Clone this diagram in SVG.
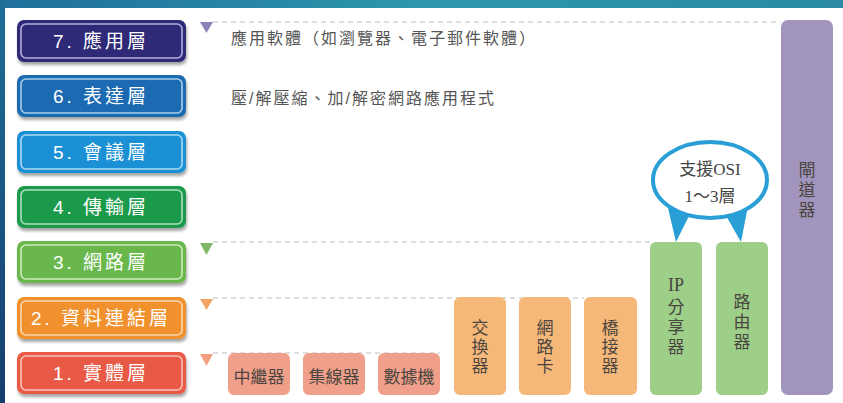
<svg xmlns="http://www.w3.org/2000/svg" width="843" height="403" viewBox="0 0 843 403">
<defs>
<linearGradient id="topband" x1="0" y1="0" x2="1" y2="0">
<stop offset="0" stop-color="#1f6f9a"/><stop offset="0.5" stop-color="#2d97ad"/><stop offset="1" stop-color="#2a8aa6"/>
</linearGradient>
<linearGradient id="leftband" x1="0" y1="0" x2="0" y2="1">
<stop offset="0" stop-color="#1e6e98"/><stop offset="1" stop-color="#163e6e"/>
</linearGradient>
<filter id="sh" x="-10%" y="-20%" width="120%" height="150%">
<feDropShadow dx="1" dy="3" stdDeviation="1.5" flood-color="#000" flood-opacity="0.35"/>
</filter>
</defs>
<style>
.layer text{font-family:"Liberation Sans","Noto Sans CJK TC",sans-serif;font-size:19px;fill:#fff;text-anchor:middle;letter-spacing:3px}
.inner{fill:none;stroke-width:1.6;stroke-opacity:0.85}
.desc{font-family:"Liberation Sans","Noto Sans CJK TC",sans-serif;font-size:16px;fill:#555;letter-spacing:2px}
.dash{stroke:#bdbdbd;stroke-width:1;stroke-dasharray:5 4;fill:none}
.dev text{font-family:"Noto Sans CJK TC",sans-serif;font-size:17px;fill:#4a4540;text-anchor:middle}
.dev text.v{writing-mode:vertical-rl;text-anchor:start;letter-spacing:2px}
.dev text.v20{letter-spacing:3px}
.bub{font-family:"Liberation Serif","Noto Sans CJK TC",serif;font-size:17px;fill:#444;text-anchor:middle}
</style>
<rect x="0" y="0" width="843" height="403" fill="#fff"/>
<rect x="0" y="0" width="843" height="8" fill="url(#topband)"/>
<rect x="0" y="0" width="5" height="403" fill="url(#leftband)"/>

<g id="connectors">
<line class="dash" x1="213" y1="22" x2="781" y2="22"/>
<line class="dash" x1="213" y1="242" x2="650" y2="242"/>
<line class="dash" x1="213" y1="298" x2="584" y2="298"/>
<line class="dash" x1="213" y1="353" x2="440" y2="353"/>
<polygon points="200,22 213,22 206.5,33" fill="#8a84b8"/>
<polygon points="200,243 213,243 206.5,255" fill="#7fb866"/>
<polygon points="200,299 213,299 206.5,310" fill="#f2a464"/>
<polygon points="200,354 213,354 206.5,366" fill="#f2a080"/>
</g>

<g id="layer7" class="layer"><rect x="17" y="20" width="169" height="42" rx="7" fill="#2e2a78" filter="url(#sh)"/><rect x="21" y="24" width="161" height="34" rx="5" class="inner" stroke="#c9c6ee"/><text x="101" y="48">7. 應用層</text></g>
<g id="layer6" class="layer"><rect x="17" y="75" width="169" height="42" rx="7" fill="#1c6ab2" filter="url(#sh)"/><rect x="21" y="79" width="161" height="34" rx="5" class="inner" stroke="#bfe0f7"/><text x="101" y="103">6. 表達層</text></g>
<g id="layer5" class="layer"><rect x="17" y="131" width="169" height="42" rx="7" fill="#1f90d4" filter="url(#sh)"/><rect x="21" y="135" width="161" height="34" rx="5" class="inner" stroke="#c5e8fa"/><text x="101" y="159">5. 會議層</text></g>
<g id="layer4" class="layer"><rect x="17" y="186" width="169" height="42" rx="7" fill="#1b9a4c" filter="url(#sh)"/><rect x="21" y="190" width="161" height="34" rx="5" class="inner" stroke="#c3ecd0"/><text x="101" y="214">4. 傳輸層</text></g>
<g id="layer3" class="layer"><rect x="17" y="241" width="169" height="42" rx="7" fill="#6bb84c" filter="url(#sh)"/><rect x="21" y="245" width="161" height="34" rx="5" class="inner" stroke="#dff2d3"/><text x="101" y="269">3. 網路層</text></g>
<g id="layer2" class="layer"><rect x="17" y="297" width="169" height="42" rx="7" fill="#f0912f" filter="url(#sh)"/><rect x="21" y="301" width="161" height="34" rx="5" class="inner" stroke="#fde3c6"/><text x="101" y="325">2. 資料連結層</text></g>
<g id="layer1" class="layer"><rect x="17" y="352" width="169" height="42" rx="7" fill="#e85a44" filter="url(#sh)"/><rect x="21" y="356" width="161" height="34" rx="5" class="inner" stroke="#fcd6cc"/><text x="101" y="380">1. 實體層</text></g>

<g id="desc7"><text class="desc" x="231" y="44">應用軟體（如瀏覽器、電子郵件軟體）</text></g>
<g id="desc6"><text class="desc" x="231" y="104">壓/解壓縮、加/解密網路應用程式</text></g>

<g id="repeater" class="dev"><rect x="228" y="353" width="62" height="42" rx="6" fill="#f0a08a"/><text x="259" y="383">中繼器</text></g>
<g id="hub" class="dev"><rect x="303" y="353" width="62" height="42" rx="6" fill="#f0a08a"/><text x="334" y="383">集線器</text></g>
<g id="modem" class="dev"><rect x="378" y="353" width="62" height="42" rx="6" fill="#f0a08a"/><text x="409" y="383">數據機</text></g>

<g id="switch" class="dev"><rect x="454" y="297" width="52" height="98" rx="6" fill="#f5b878"/><text class="v" x="480" y="319.5">交換器</text></g>
<g id="nic" class="dev"><rect x="519" y="297" width="52" height="98" rx="6" fill="#f5b878"/><text class="v" x="545" y="319.5">網路卡</text></g>
<g id="bridge" class="dev"><rect x="584" y="297" width="53" height="98" rx="6" fill="#f5b878"/><text class="v" x="610" y="319.5">橋接器</text></g>

<g id="ipshare" class="dev"><rect x="650" y="242" width="52" height="153" rx="6" fill="#9dcf88"/><text x="676" y="291" style="font-family:'Liberation Serif',serif;font-size:18px">IP</text><text class="v v20" x="676" y="298.5">分享器</text></g>
<g id="router" class="dev"><rect x="716" y="242" width="52" height="153" rx="6" fill="#9dcf88"/><text class="v v20" x="742" y="293.5">路由器</text></g>
<g id="gateway" class="dev"><rect x="781" y="20" width="52" height="375" rx="7" fill="#a195bd"/><text class="v v20" x="807" y="161.5">閘道器</text></g>

<g id="bubble">
<polygon points="668,208 690,214 676,242" fill="#2a9ed6"/>
<polygon points="725,214 748,206 741,242" fill="#2a9ed6"/>
<ellipse cx="710" cy="180" rx="57" ry="38" fill="#fff" stroke="#2a9ed6" stroke-width="4"/>
<text class="bub" x="710" y="175">支援OSI</text>
<text class="bub" x="710" y="202">1～3層</text>
</g>
</svg>
